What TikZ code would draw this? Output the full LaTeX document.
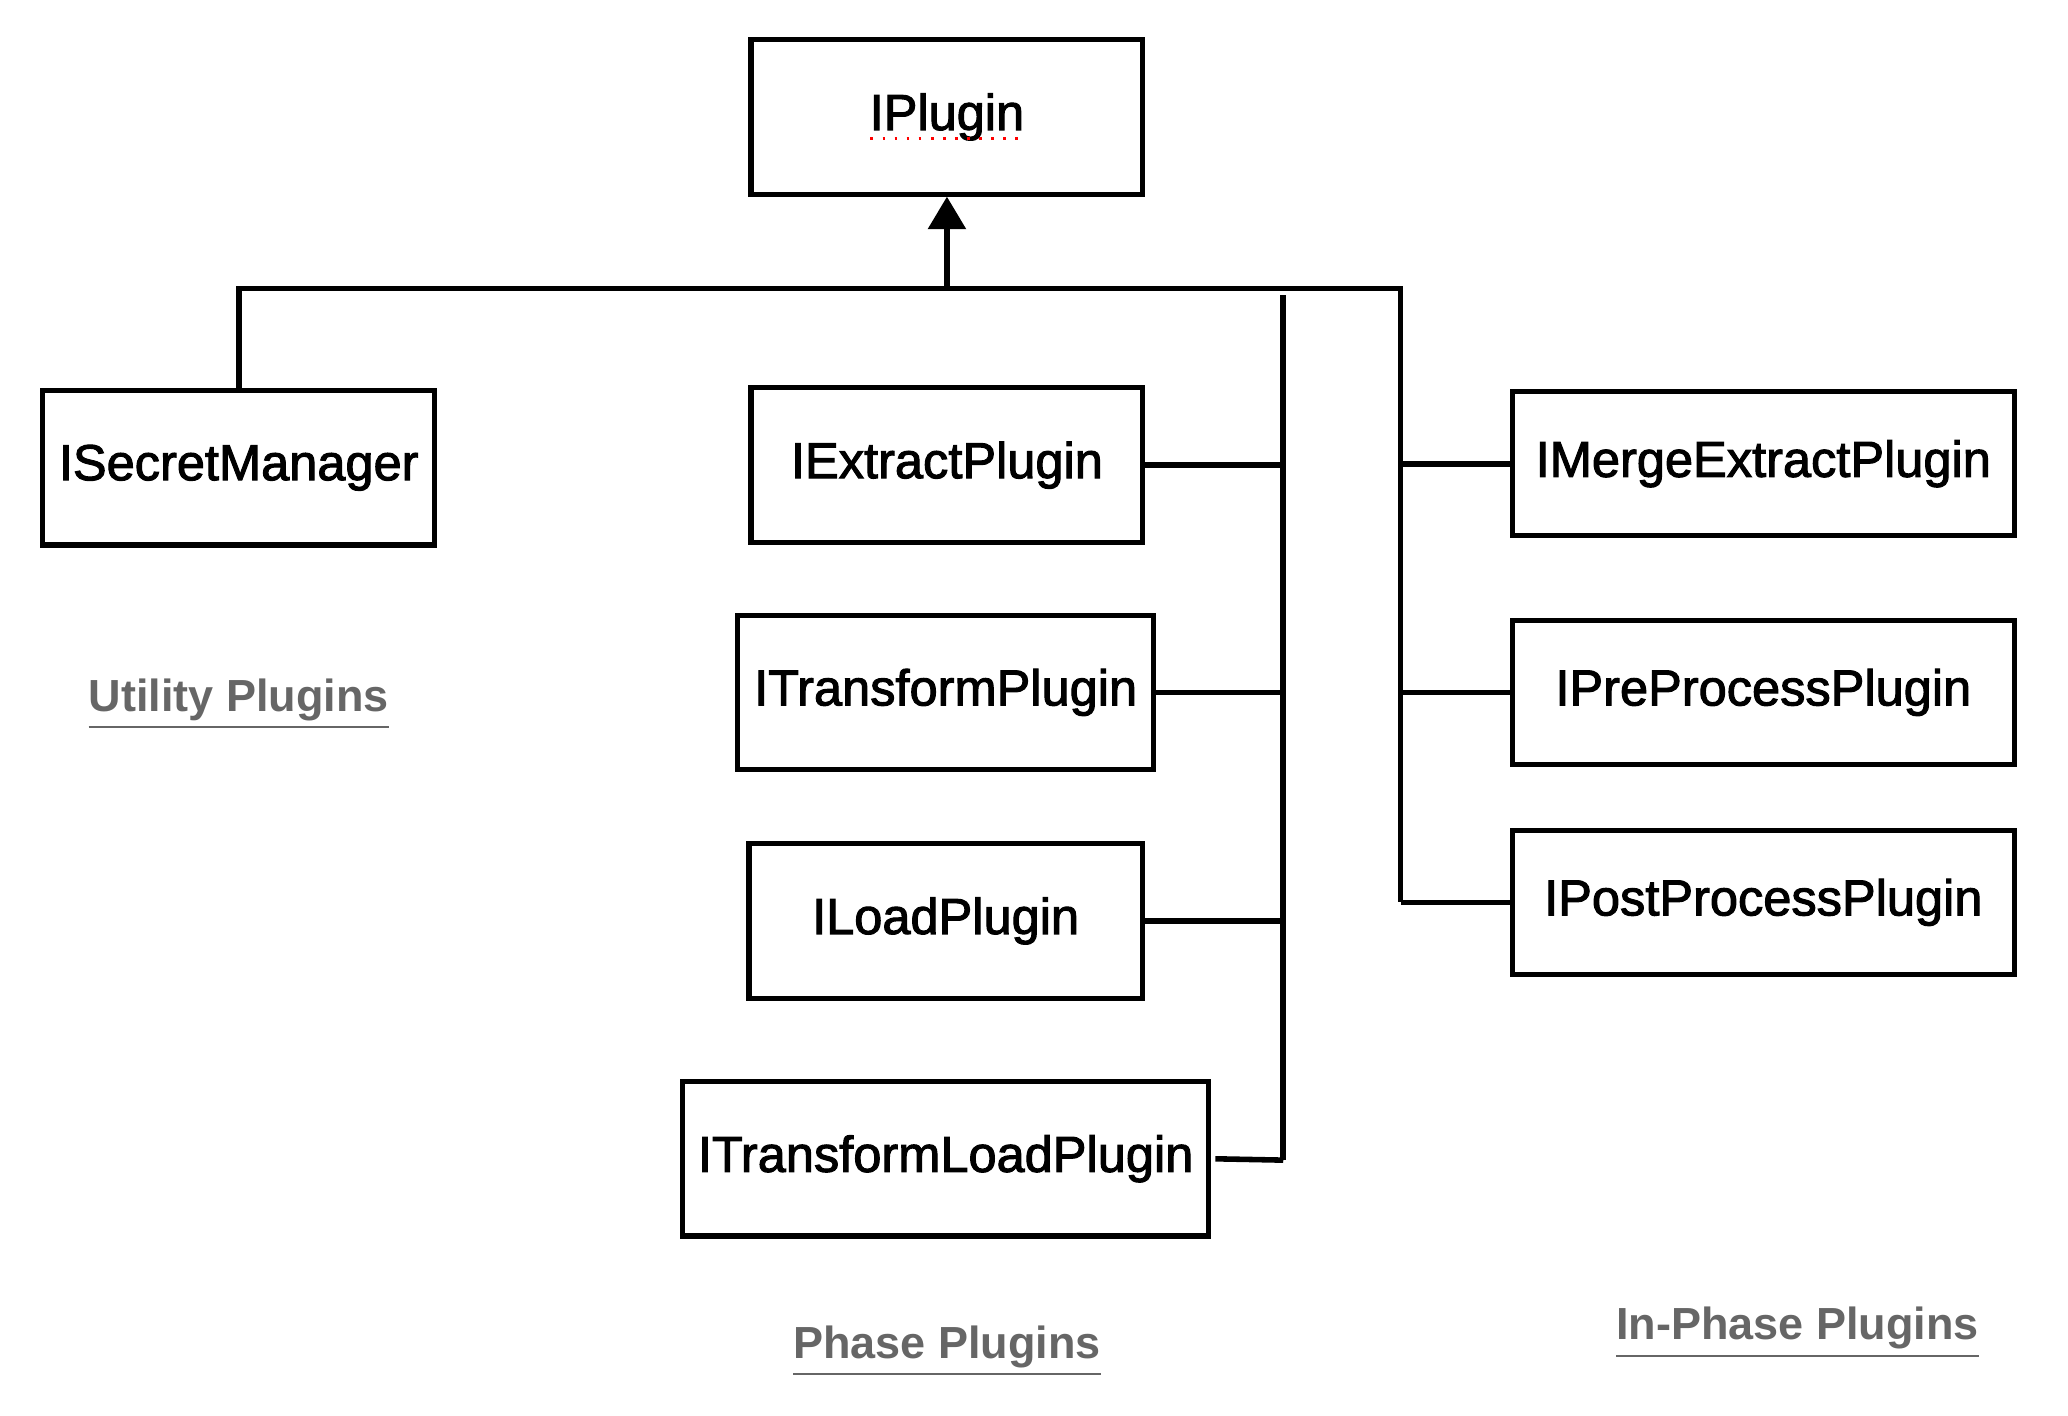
\documentclass[tikz,border=0pt]{standalone}
\usepackage{fontspec}
\setmainfont{Liberation Sans}
\newfontfamily\boxfont[BoldFont=Liberation Sans, BoldFeatures={FakeBold=2}]{Liberation Sans}
\usetikzlibrary{arrows.meta}
\definecolor{labelgray}{HTML}{666666}
\tikzset{
  iface/.style={draw, line width=1.1pt, minimum height=1.17cm, inner sep=0pt,
    font=\fontsize{10.9}{13}\boxfont\bfseries},
  inphase/.style={iface, minimum width=3.8cm, minimum height=1.09cm},
  wire/.style={line width=1.2pt},
  group/.style={text=labelgray, font=\fontsize{9.7}{12}\selectfont\bfseries}
}
\begin{document}
\begin{tikzpicture}[x=0.01cm, y=-0.01007cm]
        \useasboundingbox (0,0) rectangle (1568,1065);
        %Root interface
        \node[iface, minimum width=2.97cm] (iplugin) at (718,88) {IPlugin};
        \draw[red, dotted, line width=0.6pt] (660,104) -- (776,104);
        %Utility
        \node[iface, minimum width=2.97cm] (secret) at (181,352) {ISecretManager};
        \node[group] (utility) at (181,530) {\underline{Utility Plugins}};
        %Phase
        \node[iface, minimum width=2.97cm] (extract) at (718,350) {IExtractPlugin};
        \node[iface, minimum width=3.15cm] (transform) at (717,521) {ITransformPlugin};
        \node[iface, minimum width=2.98cm] (load) at (717,693) {ILoadPlugin};
        \node[iface, minimum width=3.99cm] (transformload) at (717,872) {ITransformLoadPlugin};
        \node[group] (phase) at (718,1017) {\underline{Phase Plugins}};
        %In-Phase
        \node[inphase] (merge) at (1337,349) {IMergeExtractPlugin};
        \node[inphase] (preprocess) at (1337,521) {IPreProcessPlugin};
        \node[inphase] (postprocess) at (1337,679) {IPostProcessPlugin};
        \node[group] (inphaselabel) at (1363,1003) {\underline{In-Phase Plugins}};
        %Bus
        \coordinate (busL) at (181,217);
        \coordinate (busM) at (718,217);
        \coordinate (busR) at (1062,217);
        \coordinate (phaseTop) at (973,222);
        \coordinate (phaseBot) at (973,873);
        \coordinate (inBot) at (1062,679);
        \draw[wire, -{Triangle[width=8pt, length=7pt]}] (busM) -- (iplugin);
        \draw[wire] (secret.north) -- (busL) -- (busR) -- (inBot);
        \draw[wire] (phaseTop) -- (phaseBot);
        %Phase connectors
        \draw[wire] (extract.east) -- (extract.east -| phaseTop);
        \draw[wire] (transform.east) -- (transform.east -| phaseTop);
        \draw[wire] (load.east) -- (load.east -| phaseTop);
        \draw[wire] (transformload.east) ++(3,0) -- (phaseBot);
        %In-Phase connectors
        \draw[wire] (merge.west -| busR) -- (merge.west);
        \draw[wire] (preprocess.west -| busR) -- (preprocess.west);
        \draw[wire] (inBot) -- (postprocess.west);
\end{tikzpicture}
\end{document}
